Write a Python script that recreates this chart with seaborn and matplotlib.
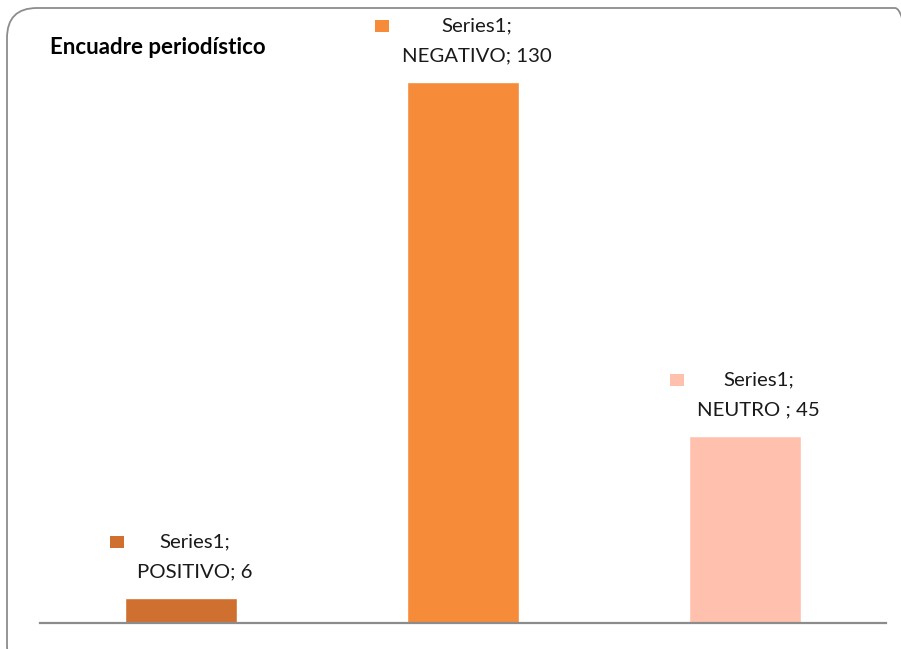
import matplotlib
matplotlib.use("Agg")
import matplotlib.pyplot as plt
import seaborn as sns
import pandas as pd
from matplotlib.patches import FancyBboxPatch, Rectangle

# data
categories = ["POSITIVO", "NEGATIVO", "NEUTRO "]
values = [6, 130, 45]
series_name = "Series1"
colors = ["#D07030", "#F68B3A", "#FFC1AE"]
title = "Encuadre periodístico"

sns.set_theme(style="white")
plt.rcParams["font.family"] = ["Lato", "DejaVu Sans"]

W, H = 901, 649
fig = plt.figure(figsize=(W / 100, H / 100), dpi=100)
fig.patch.set_facecolor("white")

# rounded frame running off the right/bottom edges
frame = FancyBboxPatch((7, -26), 918, 667, boxstyle="round,pad=0,rounding_size=30",
                       transform=None, fill=False, edgecolor="#8c8c8c", linewidth=1.3)
fig.add_artist(frame)

ax = fig.add_axes([40 / W, 26 / H, 846 / W, 541 / H])
df = pd.DataFrame({"cat": categories, "val": values})
sns.barplot(data=df, x="cat", y="val", hue="cat", palette=colors, width=0.4,
            saturation=1, legend=False, ax=ax)
ax.set_xlim(-0.5, 2.5)
ax.set_ylim(0, 130)
ax.set_xticks([]); ax.set_yticks([])
ax.set_xlabel(""); ax.set_ylabel("")
for s in ["top", "right", "left"]:
    ax.spines[s].set_visible(False)
ax.spines["bottom"].set_color("#8c8c8c")
ax.spines["bottom"].set_linewidth(1.6)
ax.patch.set_alpha(0)

fig.text(50 / W, 1 - 48 / H, title, fontsize=16, fontweight="bold",
         ha="left", va="center", color="black")

line2s, line1s = [], []
for i, (c, v) in enumerate(zip(categories, values)):
    t1 = ax.annotate(f"{series_name};", xy=(i, v), xytext=(13.5, 56),
                     textcoords="offset pixels", ha="center", va="center",
                     fontsize=14.7, color="#1a1a1a", annotation_clip=False)
    t2 = ax.annotate(f"{c}; {v}", xy=(i, v), xytext=(13.5, 26),
                     textcoords="offset pixels", ha="center", va="center",
                     fontsize=14.7, color="#1a1a1a", annotation_clip=False)
    line1s.append(t1); line2s.append(t2)

fig.canvas.draw()
r = fig.canvas.get_renderer()
for t1, t2, col in zip(line1s, line2s, colors):
    b1 = t1.get_window_extent(r)
    b2 = t2.get_window_extent(r)
    left = min(b1.x0, b2.x0)
    yc = (b1.y0 + b1.y1) / 2
    fig.add_artist(Rectangle((left - 27, yc - 6), 14, 12, transform=None,
                             facecolor=col, edgecolor="none"))

fig.savefig("out.png", dpi=100, facecolor="white")
